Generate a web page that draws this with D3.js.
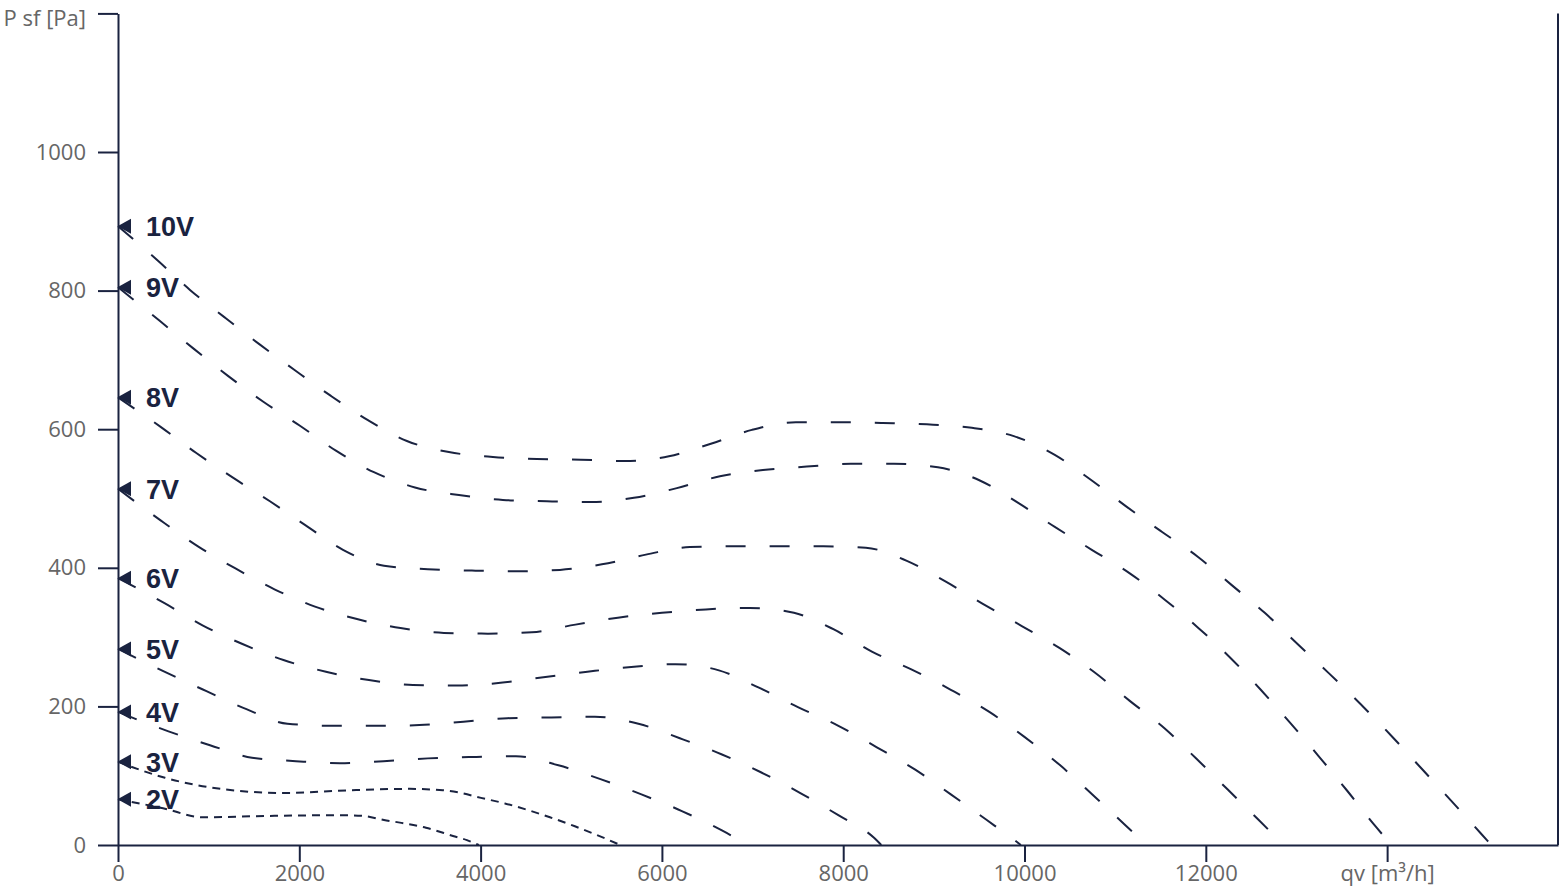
<!DOCTYPE html>
<html lang="en">
<head>
    <meta charset="UTF-8">
    <title>Fan curves P sf / qv</title>
    <style>
        body { margin: 0; background: #fff; }
        svg { display: block; }
    </style>
</head>
<body>
    <div id="chart"></div>

    <script src="https://d3js.org/d3.v7.min.js"></script>
    <script>
        const w = 1568;
        const h = 896;
        const navy = '#1a2340';

        // curve values, [qv m3/h, P sf Pa]
        const v10 = [[0,893],[441,843],[794,801],[1180,761],[1566,722],[1963,684],[2349,648],[2757,613],[3187,583],[3650,567],[4136,560],[4621,557],[5107,556],[5592,554],[6077,561],[6540,579],[6992,599],[7478,610],[7963,610],[8437,609],[8922,607],[9419,602],[9882,590],[10334,563],[10731,527],[11117,489],[11514,452],[11911,416],[12286,375],[12650,335],[13003,291],[13356,248],[13709,203],[14051,157],[14382,110],[14713,63],[15032,17],[15150,0]];
        const v9 = [[0,805],[463,756],[827,717],[1213,677],[1599,640],[2007,605],[2404,569],[2823,538],[3276,516],[3761,505],[4246,498],[4731,496],[5217,495],[5691,501],[6165,515],[6640,532],[7114,541],[7599,546],[8084,550],[8558,550],[9044,545],[9507,526],[9926,494],[10334,459],[10742,426],[11161,392],[11547,354],[11911,314],[12264,271],[12606,224],[12926,177],[13246,128],[13555,79],[13852,30],[14050,0]];
        const v8 = [[0,646],[474,603],[860,566],[1268,530],[1676,496],[2062,462],[2482,426],[2934,403],[3419,398],[3904,396],[4390,395],[4875,397],[5338,405],[5823,419],[6309,430],[6794,431],[7279,431],[7765,431],[8250,429],[8702,410],[9132,380],[9540,348],[9970,316],[10389,284],[10764,250],[11161,208],[11547,168],[11900,124],[12242,80],[12584,36],[12860,0]];
        const v7 = [[0,514],[474,468],[882,431],[1296,399],[1726,369],[2173,344],[2636,326],[3116,313],[3595,306],[4081,305],[4566,307],[5046,318],[5514,328],[6000,335],[6485,340],[6970,342],[7456,335],[7897,311],[8316,279],[8757,253],[9187,224],[9612,192],[9999,156],[10384,116],[10748,73],[11101,30],[11350,0]];
        const v6 = [[0,385],[513,349],[932,317],[1373,290],[1825,267],[2294,250],[2768,238],[3254,231],[3739,230],[4219,234],[4693,242],[5178,250],[5662,257],[6149,261],[6629,252],[7070,227],[7500,199],[7947,172],[8371,141],[8790,109],[9187,73],[9584,36],[9910,5],[9960,0]];
        const v5 = [[0,283],[529,249],[976,222],[1417,196],[1869,175],[2360,172],[2846,172],[3325,173],[3811,178],[4296,183],[4781,184],[5261,185],[5741,175],[6198,154],[6656,131],[7092,105],[7527,75],[7946,43],[8343,10],[8420,0]];
        const v4 = [[0,192],[557,164],[1015,144],[1478,126],[1963,121],[2448,118],[2928,121],[3419,125],[3904,127],[4390,128],[4858,115],[5322,95],[5774,73],[6220,49],[6662,21],[6950,0]];
        const v3 = [[0,120],[518,97],[1191,80],[1842,75],[2559,79],[3220,81],[3584,79],[3750,76],[4004,68],[4268,60],[4765,40],[5040,27],[5382,9],[5540,0]];
        const v2 = [[0,66],[497,53],[937,40],[1676,42],[2482,43],[2702,42],[2934,36],[3077,33],[3397,25],[3695,13],[3849,7],[3980,0]];

        const curveNames = ['10V','9V','8V','7V','6V','5V','4V','3V','2V'];
        const curveData = [v10, v9, v8, v7, v6, v5, v4, v3, v2];
        const shortDash = ['3V','2V'];

        const xTicks = [0,2000,4000,6000,8000,10000,12000,14000];
        const yTicks = [0,200,400,600,800,1000,1200];
        const xTitle = 'qv [m³/h]';   // sits on the 14000 tick
        const yTitle = 'P sf [Pa]';   // sits on the 1200 tick

        const xScale = d3.scaleLinear()
            .domain([0, 15885])
            .range([118, 1558]);
        const yScale = d3.scaleLinear()
            .domain([0, 1200])
            .range([845, 13.4]);

        const svg = d3.select('#chart')
            .append('svg')
            .attr('width', w)
            .attr('height', h);

        const xAxis = d3.axisBottom(xScale)
            .tickValues(xTicks)
            .tickSize(17)
            .tickSizeOuter(0)
            .tickPadding(3)
            .tickFormat(d => d === 14000 ? xTitle : d);
        const yAxis = d3.axisLeft(yScale)
            .tickValues(yTicks)
            .tickSize(20)
            .tickSizeOuter(0)
            .tickPadding(12)
            .tickFormat(d => d === 1200 ? yTitle : d);

        const gx = svg.append('g')
            .attr('transform', `translate(0,${yScale(0)})`)
            .call(xAxis);
        const gy = svg.append('g')
            .attr('transform', `translate(${xScale(0)},0)`)
            .call(yAxis);

        [gx, gy].forEach(g => {
            g.selectAll('path, line')
                .attr('stroke', navy)
                .attr('stroke-width', 2);
            g.selectAll('text')
                .attr('fill', '#666')
                .style('font-family', '"Open Sans", sans-serif')
                .style('font-size', '22px');
        });
        // top title would touch the page edge, push it down a little
        gy.selectAll('.tick')
            .filter(d => d === 1200)
            .select('text')
            .attr('dy', '0.55em');

        // right frame line
        svg.append('line')
            .attr('x1', xScale(15885)).attr('x2', xScale(15885))
            .attr('y1', yScale(1200)).attr('y2', yScale(0))
            .attr('stroke', navy)
            .attr('stroke-width', 2);

        const line = d3.line()
            .x(d => xScale(d[0]))
            .y(d => yScale(d[1]))
            .curve(d3.curveMonotoneX);

        const series = curveNames.map((name, i) => ({ name, values: curveData[i] }));

        svg.selectAll('.curve')
            .data(series)
            .enter()
            .append('path')
            .attr('class', 'curve')
            .attr('d', d => line(d.values))
            .attr('fill', 'none')
            .attr('stroke', navy)
            .attr('stroke-width', 2)
            .attr('stroke-dasharray', d => shortDash.includes(d.name) ? '8,6' : '20,24');

        // start markers + voltage labels
        const marks = svg.selectAll('.mark')
            .data(series)
            .enter()
            .append('g')
            .attr('class', 'mark')
            .attr('transform', d => `translate(${xScale(d.values[0][0])},${yScale(d.values[0][1])})`);
        marks.append('path')
            .attr('d', 'M-0.5,0L13,-7.5L13,7.5Z')
            .attr('fill', navy);
        marks.append('text')
            .attr('x', 28)
            .attr('dy', '0.36em')
            .attr('fill', navy)
            .style('font-family', '"Liberation Sans", Arial, sans-serif')
            .style('font-weight', 'bold')
            .style('font-size', '27px')
            .text(d => d.name);
    </script>
</body>
</html>
